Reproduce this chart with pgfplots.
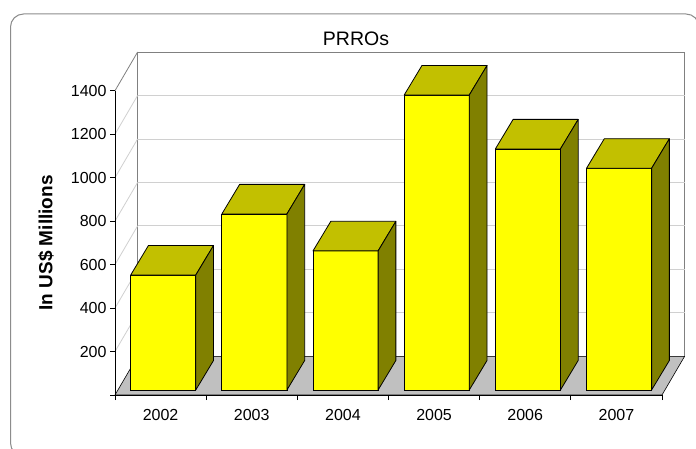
\documentclass[border=0pt]{standalone}
\usepackage{pgfplots}
\usepackage{pgfplotstable}
\pgfplotsset{compat=1.18}
\usepackage{fontspec}
\setmainfont{Liberation Sans}

\definecolor{barfront}{HTML}{FFFF00}
\definecolor{bartop}{HTML}{C2C000}
\definecolor{barside}{HTML}{808000}
\definecolor{floorgray}{HTML}{C0C0C0}
\definecolor{wallgray}{HTML}{808080}
\definecolor{gridgray}{HTML}{D0D0D0}
\definecolor{framegray}{HTML}{8C8C8C}

% PRRO funding per year, US$ millions
\pgfplotstableread{
idx year value
0 2002 529
1 2003 810
2 2004 640
3 2005 1357
4 2006 1109
5 2007 1020
}\prrodata

% depth of the walls and of the bars, in axis units
\newcommand\walldx{0.248}
\newcommand\walldy{178}
\newcommand\bardx{0.195}
\newcommand\bardy{136}
\newcommand\barbase{23}

\begin{document}
\begin{tikzpicture}
\useasboundingbox (0pt,0pt) rectangle (696pt,448pt);
\clip (0pt,0pt) rectangle (696pt,448pt);
\fill[white] (0pt,0pt) rectangle (696pt,448pt);
\draw[framegray, line width=1pt, rounded corners=13pt] (10.5pt,-8pt) rectangle (699pt,434pt);

\begin{axis}[
  at={(115pt,53pt)}, anchor=south west,
  scale only axis, width=547pt, height=304.3pt,
  xmin=0, xmax=6, ymin=0, ymax=1400,
  clip=false, axis on top,
  axis lines=left, axis line style={-, black, line width=0.8pt},
  tick align=outside, major tick length=5pt,
  tick style={black, line width=0.8pt},
  xtick={0,...,6}, xticklabels={2002,2003,2004,2005,2006,2007},
  x tick label as interval,
  xticklabel style={yshift=-6pt},
  ytick={200,400,...,1400},
  extra y ticks={0}, extra y tick labels={},
  /pgf/number format/1000 sep={},
  /pgf/number format/assume math mode=true,
  tick label style={font=\fontsize{16}{19}\selectfont},
  ylabel={\bfseries In US\$ Millions},
  ylabel style={font=\fontsize{19}{22}\selectfont, at={(axis description cs:-0.126,0.5)}, anchor=center},
]
% back wall
\addplot[fill=white, draw=wallgray, line width=0.8pt] coordinates {(0.248,178) (6.248,178) (6.248,1578) (0.248,1578)} -- cycle;
% grid on the back wall
\addplot[gridgray, line width=0.8pt] coordinates {(0.248,378) (6.248,378)};
\addplot[gridgray, line width=0.8pt] coordinates {(0.248,578) (6.248,578)};
\addplot[gridgray, line width=0.8pt] coordinates {(0.248,778) (6.248,778)};
\addplot[gridgray, line width=0.8pt] coordinates {(0.248,978) (6.248,978)};
\addplot[gridgray, line width=0.8pt] coordinates {(0.248,1178) (6.248,1178)};
\addplot[gridgray, line width=0.8pt] coordinates {(0.248,1378) (6.248,1378)};
% grid on the side wall
\addplot[gridgray, line width=0.8pt] coordinates {(0,200) (0.248,378)};
\addplot[gridgray, line width=0.8pt] coordinates {(0,400) (0.248,578)};
\addplot[gridgray, line width=0.8pt] coordinates {(0,600) (0.248,778)};
\addplot[gridgray, line width=0.8pt] coordinates {(0,800) (0.248,978)};
\addplot[gridgray, line width=0.8pt] coordinates {(0,1000) (0.248,1178)};
\addplot[gridgray, line width=0.8pt] coordinates {(0,1200) (0.248,1378)};
\addplot[wallgray, line width=0.8pt] coordinates {(0,1400) (0.248,1578)};
% floor
\addplot[fill=floorgray, draw=black, line width=0.6pt] coordinates {(0,0) (6,0) (6.248,178) (0.248,178)} -- cycle;
% 3D columns: front, top and side faces
\pgfplotsinvokeforeach{0,...,5}{
  \pgfplotstablegetelem{#1}{value}\of\prrodata
  \let\barval\pgfplotsretval
  \pgfmathsetmacro\xl{#1+0.172}
  \pgfmathsetmacro\xr{#1+0.886}
  \pgfmathsetmacro\xlb{\xl+\bardx}
  \pgfmathsetmacro\xrb{\xr+\bardx}
  \pgfmathsetmacro\yb{\barbase}
  \pgfmathsetmacro\yt{\barbase+\barval}
  \pgfmathsetmacro\ybb{\barbase+\bardy}
  \pgfmathsetmacro\ytb{\barbase+\barval+\bardy}
  \edef\drawcolumn{%
    \noexpand\addplot[fill=barfront, draw=black, line width=0.8pt] coordinates {(\xl,\yb) (\xr,\yb) (\xr,\yt) (\xl,\yt)} -- cycle;
    \noexpand\addplot[fill=bartop, draw=black, line width=0.8pt, line join=round] coordinates {(\xl,\yt) (\xr,\yt) (\xrb,\ytb) (\xlb,\ytb)} -- cycle;
    \noexpand\addplot[fill=barside, draw=black, line width=0.8pt, line join=round] coordinates {(\xr,\yb) (\xrb,\ybb) (\xrb,\ytb) (\xr,\yt)} -- cycle;
  }%
  \drawcolumn
}
\end{axis}
\node[font=\fontsize{19.5}{22}\selectfont] at (356pt,409pt) {PRROs};
\end{tikzpicture}
\end{document}
